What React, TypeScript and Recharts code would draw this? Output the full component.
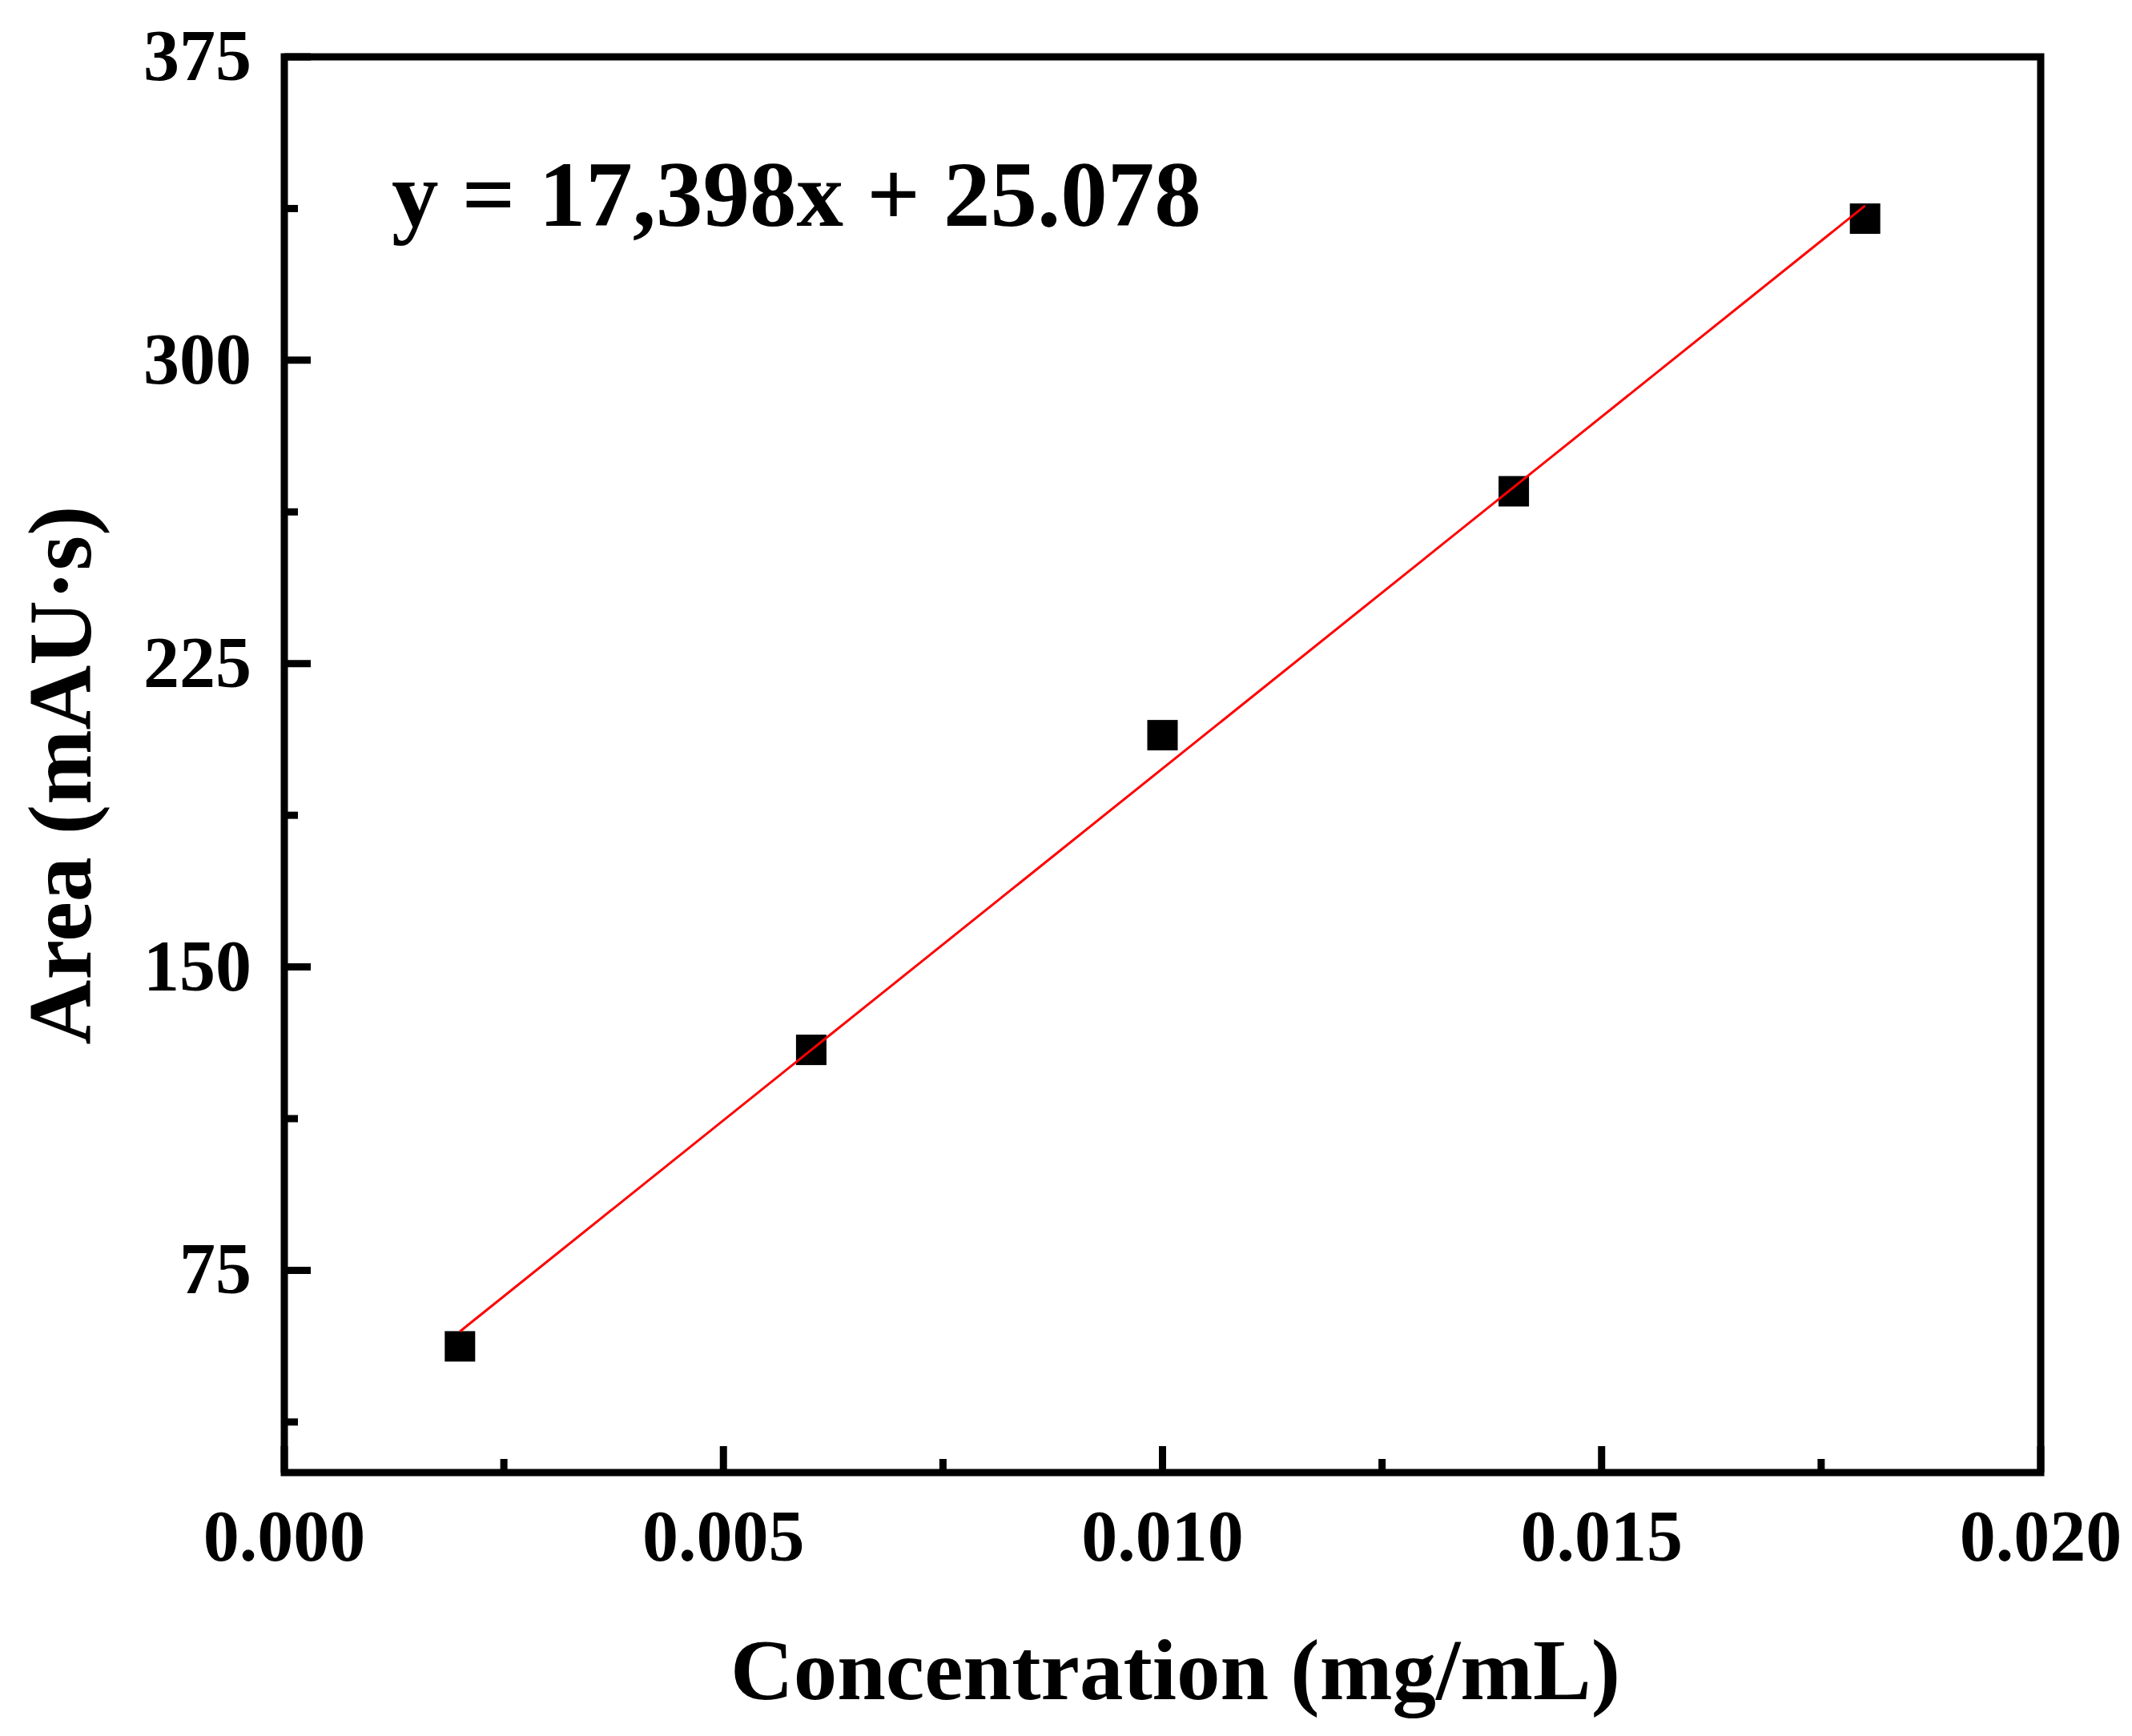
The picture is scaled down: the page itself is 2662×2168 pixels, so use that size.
import { ComposedChart, Scatter, XAxis, YAxis, Label, ReferenceArea } from "recharts";

// measured calibration points
const concentration = [0.002, 0.006, 0.01, 0.014, 0.018];
const area = [56.2, 129.5, 207.3, 267.6, 335.0];

// linear fit drawn between first and last concentration
const fitX = [0.002, 0.018];
const fitY = [59.9, 338.2];

const xMajorTicks = [0, 0.005, 0.01, 0.015, 0.02];
const xMinorTicks = [0.0025, 0.0075, 0.0125, 0.0175];
const yMajorTicks = [75, 150, 225, 300, 375];
const yMinorTicks = [37.5, 112.5, 187.5, 262.5, 337.5];

const FONT = "'Liberation Serif', 'Times New Roman', serif";

const points = concentration.map((c, i) => ({ x: c, y: area[i] }));
const fitLine = fitX.map((c, i) => ({ x: c, y: fitY[i] }));
const xTicks = [...xMajorTicks, ...xMinorTicks].sort((a, b) => a - b);
const yTicks = [...yMajorTicks, ...yMinorTicks].sort((a, b) => a - b);

const XTick = (props: any) => {
  const { x, y, payload } = props;
  const major = xMajorTicks.includes(payload.value);
  return (
    <g>
      <line x1={x} x2={x} y1={y} y2={y - (major ? 33 : 17)} stroke="#000" strokeWidth={9} />
      {major && (
        <text x={x} y={y + 110} textAnchor="middle" fontFamily={FONT} fontWeight="bold" fontSize={90} fill="#000">
          {payload.value.toFixed(3)}
        </text>
      )}
    </g>
  );
};

const YTick = (props: any) => {
  const { x, y, payload } = props;
  const major = yMajorTicks.includes(payload.value);
  return (
    <g>
      <line x1={x} x2={x + (major ? 33 : 17)} y1={y} y2={y} stroke="#000" strokeWidth={9} />
      {major && (
        <text x={x - 41} y={y + 29} textAnchor="end" fontFamily={FONT} fontWeight="bold" fontSize={90} fill="#000">
          {payload.value}
        </text>
      )}
    </g>
  );
};

const Square = (props: any) => (
  <rect x={props.cx - 19} y={props.cy - 19} width={38} height={38} fill="#000" />
);

export default function App() {
  return (
    <div style={{ position: "absolute", left: 0, top: 0, background: "#fff" }}>
      <ComposedChart width={2662} height={2168} margin={{ top: 71, right: 114, left: 0, bottom: 0 }}>
        <XAxis
          dataKey="x"
          type="number"
          domain={[0, 0.02]}
          ticks={xTicks}
          interval={0}
          height={329}
          tickSize={0}
          tickMargin={0}
          tickLine={false}
          axisLine={false}
          tick={<XTick />}
        >
          <Label
            content={({ viewBox }: any) => (
              <text
                x={viewBox.x + viewBox.width / 2 + 16}
                y={viewBox.y + 283}
                textAnchor="middle"
                fontFamily={FONT}
                fontWeight="bold"
                fontSize={109}
                fill="#000"
              >
                Concentration (mg/mL)
              </text>
            )}
          />
        </XAxis>
        <YAxis
          dataKey="y"
          type="number"
          domain={[25, 375]}
          ticks={yTicks}
          interval={0}
          width={355}
          tickSize={0}
          tickMargin={0}
          tickLine={false}
          axisLine={false}
          tick={<YTick />}
        >
          <Label
            content={({ viewBox }: any) => {
              const cx = viewBox.x + 113;
              const cy = viewBox.y + viewBox.height / 2 + 13;
              return (
                <text
                  x={cx}
                  y={cy}
                  transform={`rotate(-90, ${cx}, ${cy})`}
                  textAnchor="middle"
                  fontFamily={FONT}
                  fontWeight="bold"
                  fontSize={112}
                  fill="#000"
                >
                  Area (mAU·s)
                </text>
              );
            }}
          />
        </YAxis>
        {/* plot frame */}
        <ReferenceArea
          x1={xMajorTicks[0]}
          x2={xMajorTicks[xMajorTicks.length - 1]}
          y1={25}
          y2={yMajorTicks[yMajorTicks.length - 1]}
          fill="none"
          fillOpacity={0}
          stroke="#000"
          strokeWidth={9}
          strokeOpacity={1}
        />
        <Scatter data={points} shape={<Square />} isAnimationActive={false} />
        <Scatter
          data={fitLine}
          line={{ stroke: "#ff0000", strokeWidth: 3 }}
          lineType="joint"
          shape={() => <g />}
          isAnimationActive={false}
        />
        <text x={489} y={282} fontFamily={FONT} fontWeight="bold" fontSize={117} fill="#000">
          y = 17,398x + 25.078
        </text>
      </ComposedChart>
    </div>
  );
}
